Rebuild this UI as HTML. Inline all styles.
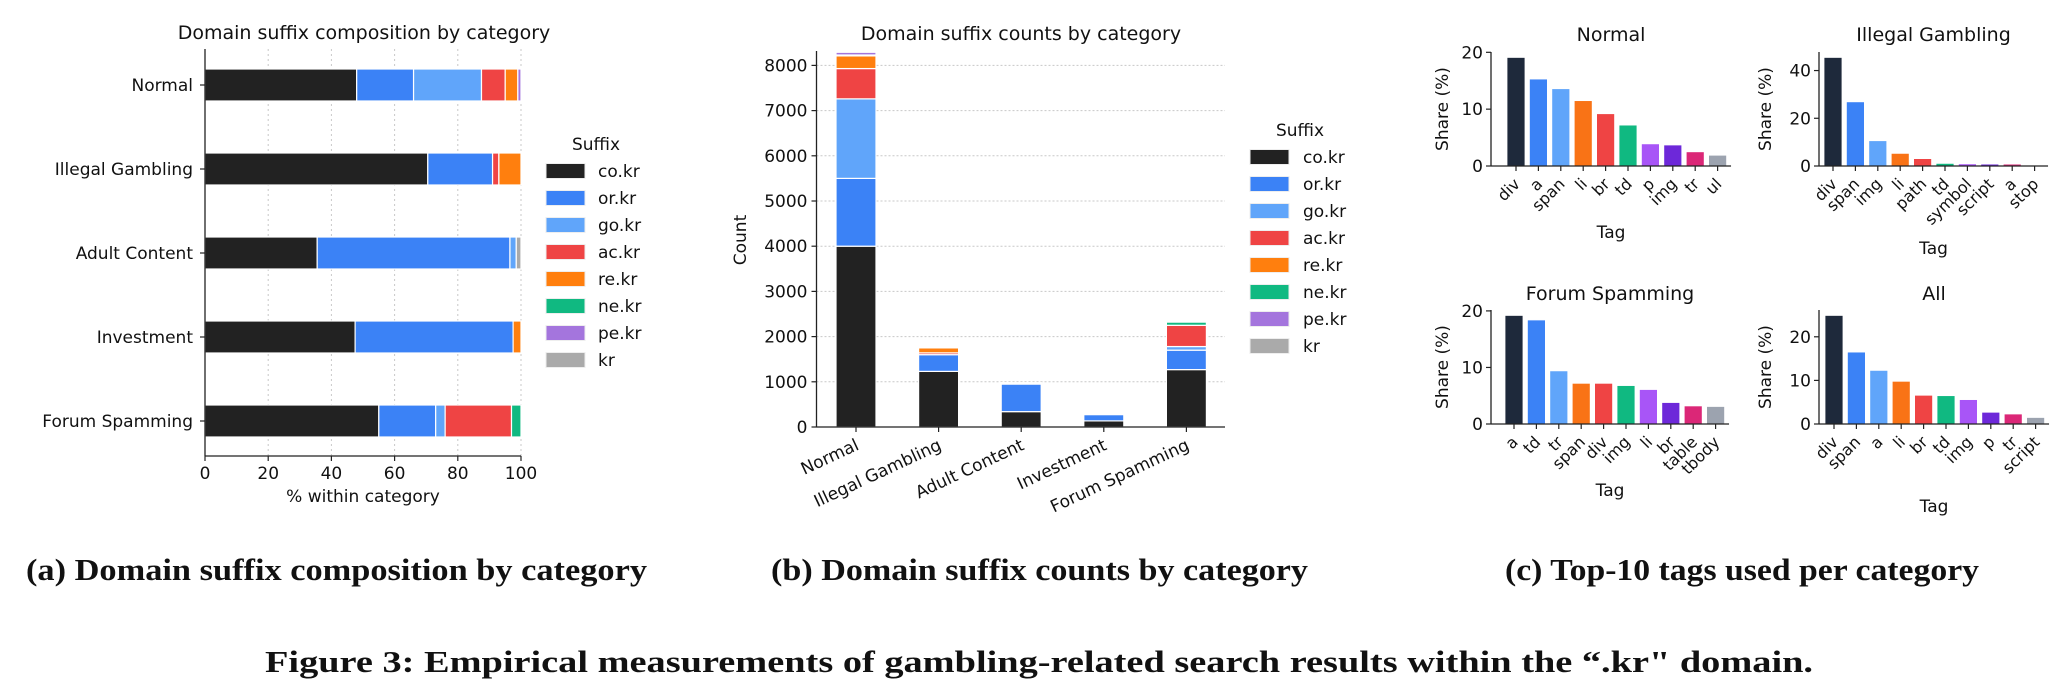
<!DOCTYPE html>
<html><head><meta charset="utf-8"><style>
html,body{margin:0;padding:0;background:#fff;}
svg{display:block;}
text{font-family:"DejaVu Sans","Liberation Sans",sans-serif;fill:#111;}
.cap{font-family:"Liberation Serif",serif;font-weight:bold;}
</style></head><body>
<svg id="fig" width="2071" height="693" viewBox="0 0 2071 693" xmlns="http://www.w3.org/2000/svg">
<g id="pa"></g>
<g id="pb"></g>
<g id="pc"></g>
<text class="cap" x="26" y="580" font-size="31" textLength="621" lengthAdjust="spacingAndGlyphs">(a) Domain suffix composition by category</text>
<text class="cap" x="771" y="580" font-size="31" textLength="537" lengthAdjust="spacingAndGlyphs">(b) Domain suffix counts by category</text>
<text class="cap" x="1505" y="580" font-size="31" textLength="474" lengthAdjust="spacingAndGlyphs">(c) Top-10 tags used per category</text>
<text class="cap" x="265" y="672" font-size="31" textLength="1548" lengthAdjust="spacingAndGlyphs">Figure 3: Empirical measurements of gambling-related search results within the “.kr" domain.</text>
</svg>
<script>
const categories=["Normal","Illegal Gambling","Adult Content","Investment","Forum Spamming"];
const suffixes=["co.kr","or.kr","go.kr","ac.kr","re.kr","ne.kr","pe.kr","kr"];
const suffixColors=["#222222","#3b82f6","#60a5fa","#ef4444","#ff7f0e","#10b981","#a475dd","#aaaaaa"];
// percent within category, per suffix (rows = categories)
const pctCo=[48,70.5,35.5,47.5,55];
const pctOr=[18,20.5,61,50,18];
const pctGo=[21.5,0,2,0,3];
const pctAc=[7.5,2,0,0,21];
const pctRe=[4,7,0,2.5,0];
const pctNe=[0,0,0,0,3];
const pctPe=[1,0,0,0,0];
const pctKr=[0,0,1.5,0,0];
// counts per suffix
const cntCo=[4000,1230,340,135,1270];
const cntOr=[1500,370,610,140,430];
const cntGo=[1760,0,15,0,80];
const cntAc=[670,40,0,0,470];
const cntRe=[280,110,0,8,0];
const cntNe=[20,0,0,0,70];
const cntPe=[60,0,0,0,0];
const cntKr=[0,0,15,0,0];
const countTicks=[0,1000,2000,3000,4000,5000,6000,7000,8000];
const pctTicks=[0,20,40,60,80,100];
// tags
const tagsNormal=["div","a","span","li","br","td","p","img","tr","ul"];
const valsNormal=[19.1,15.3,13.6,11.5,9.2,7.2,3.9,3.7,2.5,1.9];
const tagsGambling=["div","span","img","li","path","td","symbol","script","a","stop"];
const valsGambling=[45.5,26.9,10.6,5.3,3.1,1.1,0.9,0.8,0.8,0.3];
const tagsForum=["a","td","tr","span","div","img","li","br","table","tbody"];
const valsForum=[19.2,18.4,9.4,7.2,7.2,6.8,6.1,3.8,3.2,3.1];
const tagsAll=["div","span","a","li","br","td","img","p","tr","script"];
const valsAll=[24.9,16.5,12.3,9.8,6.6,6.5,5.6,2.7,2.3,1.5];
const ticksNormal=[0,10,20],ticksGambling=[0,20,40],ticksForum=[0,10,20],ticksAll=[0,10,20];
const tagColors=["#1e293b","#3b82f6","#60a5fa","#f97316","#ef4444","#10b981","#a855f7","#6d28d9","#db2777","#9ca3af"];

const NS="http://www.w3.org/2000/svg";
function mk(parent,tag,attrs,txt){const e=document.createElementNS(NS,tag);for(const k in attrs)e.setAttribute(k,attrs[k]);if(txt!==undefined)e.textContent=txt;parent.appendChild(e);return e;}

// ---------- Panel A ----------
(function(){
const g=document.getElementById('pa');
const x0=205,x1=521,yTop=49,yBot=456;
const xs=v=>x0+(x1-x0)*v/100;
const yc=i=>85+84*i, bh=32;
pctTicks.forEach(t=>{const l=mk(g,'line',{x1:xs(t),x2:xs(t),y1:yTop,y2:yBot,stroke:'#c8c8c8','stroke-dasharray':'2,3','stroke-width':1});
});
const series=[pctCo,pctOr,pctGo,pctAc,pctRe,pctNe,pctPe,pctKr];
categories.forEach((c,i)=>{let acc=0;series.forEach((s,k)=>{const v=s[i];if(v>0){const r=mk(g,'rect',{x:xs(acc),y:yc(i)-bh/2,width:xs(acc+v)-xs(acc),height:bh,fill:suffixColors[k],stroke:'#fff','stroke-width':1.2});
}acc+=v;});
const t=mk(g,'text',{x:x0-12,y:yc(i)+6,'text-anchor':'end','font-size':17},c);
mk(g,'line',{x1:x0-5,x2:x0,y1:yc(i),y2:yc(i),stroke:'#222','stroke-width':1.2});});
mk(g,'line',{x1:x0,x2:x0,y1:yTop,y2:yBot,stroke:'#222','stroke-width':1.3});
mk(g,'line',{x1:x0,x2:x1,y1:yBot,y2:yBot,stroke:'#222','stroke-width':1.3});
pctTicks.forEach(t=>{mk(g,'line',{x1:xs(t),x2:xs(t),y1:yBot,y2:yBot+5,stroke:'#222','stroke-width':1.2});
const tt=mk(g,'text',{x:xs(t),y:yBot+23,'text-anchor':'middle','font-size':17},t);});
const xl=mk(g,'text',{x:(x0+x1)/2,y:477+25,'text-anchor':'middle','font-size':17},'% within category');
const ti=mk(g,'text',{x:364,y:39,'text-anchor':'middle','font-size':19},'Domain suffix composition by category');
const lt=mk(g,'text',{x:596,y:150,'text-anchor':'middle','font-size':17},'Suffix');
suffixes.forEach((s,k)=>{const cy=171+27*k;const r=mk(g,'rect',{x:546,y:cy-7.5,width:39,height:15,fill:suffixColors[k],stroke:'#eee','stroke-width':1});

const t=mk(g,'text',{x:598,y:cy+6,'font-size':17},s);});
})();

// ---------- Panel B ----------
(function(){
const g=document.getElementById('pb');
const x0=816.5,x1=1225,yTop=51,yBot=427,perK=45.2;
const ys=v=>yBot-v*perK/1000;
const xc=i=>856+82.6*i, bw=40;
countTicks.forEach(t=>{if(t>0){const l=mk(g,'line',{x1:x0,x2:x1,y1:ys(t),y2:ys(t),stroke:'#c8c8c8','stroke-dasharray':'2,2','stroke-width':1});
}
mk(g,'line',{x1:x0-5,x2:x0,y1:ys(t),y2:ys(t),stroke:'#222','stroke-width':1.2});
const tt=mk(g,'text',{x:x0-9,y:ys(t)+6,'text-anchor':'end','font-size':17},t);});
const series=[cntCo,cntOr,cntGo,cntAc,cntRe,cntNe,cntPe,cntKr];
categories.forEach((c,i)=>{let acc=0;series.forEach((s,k)=>{const v=s[i];if(v>0){const r=mk(g,'rect',{x:xc(i)-bw/2,y:ys(acc+v),width:bw,height:ys(acc)-ys(acc+v),fill:suffixColors[k],stroke:'#fff','stroke-width':1.2});
}acc+=v;});
mk(g,'line',{x1:xc(i),x2:xc(i),y1:yBot,y2:yBot+5,stroke:'#222','stroke-width':1.2});
const t=mk(g,'text',{x:xc(i)+4,y:yBot+22,'text-anchor':'end','font-size':17,transform:`rotate(-25 ${xc(i)+4} ${yBot+22})`},c);});
mk(g,'line',{x1:x0,x2:x0,y1:yTop,y2:yBot,stroke:'#222','stroke-width':1.3});
mk(g,'line',{x1:x0,x2:x1,y1:yBot,y2:yBot,stroke:'#222','stroke-width':1.3});
const yl=mk(g,'text',{x:746,y:240,'text-anchor':'middle','font-size':17,transform:'rotate(-90 746 240)'},'Count');
const ti=mk(g,'text',{x:1021,y:40,'text-anchor':'middle','font-size':19},'Domain suffix counts by category');
const lt=mk(g,'text',{x:1300,y:136,'text-anchor':'middle','font-size':17},'Suffix');
suffixes.forEach((s,k)=>{const cy=157+27*k;const r=mk(g,'rect',{x:1250,y:cy-7.5,width:39,height:15,fill:suffixColors[k],stroke:'#eee','stroke-width':1});

const t=mk(g,'text',{x:1303,y:cy+6,'font-size':17},s);});
})();

// ---------- Panel C ----------
(function(){
const g=document.getElementById('pc');
const panels=[
 {title:'Normal',tags:tagsNormal,vals:valsNormal,ticks:ticksNormal,x0:1491,first:1516,yBot:166,yTop:52,tY:34,lx:1442},
 {title:'Illegal Gambling',tags:tagsGambling,vals:valsGambling,ticks:ticksGambling,x0:1819,first:1833,yBot:166,yTop:52,tY:34,lx:1765},
 {title:'Forum Spamming',tags:tagsForum,vals:valsForum,ticks:ticksForum,x0:1491,first:1514,yBot:424,yTop:310,tY:293,lx:1442},
 {title:'All',tags:tagsAll,vals:valsAll,ticks:ticksAll,x0:1819,first:1834,yBot:424,yTop:310,tY:293,lx:1765}];
panels.forEach(p=>{
 const sg=mk(g,'g',{});
 const ymax=Math.max(...p.vals)*1.05;
 const ys=v=>p.yBot-(p.yBot-p.yTop)*v/ymax;
 const step=22.4,bw=18;
 const xc=i=>p.first+step*i;
 const x1=xc(9)+step*0.6;
 p.vals.forEach((v,i)=>{const r=mk(sg,'rect',{x:xc(i)-bw/2,y:ys(v),width:bw,height:p.yBot-ys(v),fill:tagColors[i],stroke:'#fff','stroke-width':0.8});
  
  mk(sg,'line',{x1:xc(i),x2:xc(i),y1:p.yBot,y2:p.yBot+5,stroke:'#222','stroke-width':1.2});
  const ax=xc(i)+5,ay=p.yBot+19;
  const t=mk(sg,'text',{x:ax,y:ay,'text-anchor':'end','font-size':16,transform:`rotate(-45 ${ax} ${ay})`},p.tags[i]);});
 p.ticks.forEach(t=>{mk(sg,'line',{x1:p.x0-5,x2:p.x0,y1:ys(t),y2:ys(t),stroke:'#222','stroke-width':1.2});
  const tt=mk(sg,'text',{x:p.x0-8,y:ys(t)+6,'text-anchor':'end','font-size':17},t);});
 mk(sg,'line',{x1:p.x0,x2:p.x0,y1:p.yTop,y2:p.yBot,stroke:'#222','stroke-width':1.3});
 mk(sg,'line',{x1:p.x0,x2:x1,y1:p.yBot,y2:p.yBot,stroke:'#222','stroke-width':1.3});
 const cx=(p.x0+x1)/2;
 const ti=mk(sg,'text',{x:cx,y:p.tY+7,'text-anchor':'middle','font-size':19},p.title);
 const ly=(p.yTop+p.yBot)/2;
 const yl=mk(sg,'text',{x:p.lx+6,y:ly,'text-anchor':'middle','font-size':17,transform:`rotate(-90 ${p.lx+6} ${ly})`},'Share (%)');
 const longest=Math.max(...p.tags.map(s=>s.length));
 const xlY=p.yBot+72+(longest>5?16:0);
 const xl=mk(sg,'text',{x:cx,y:xlY,'text-anchor':'middle','font-size':17},'Tag');
});
})();
</script>
</body></html>
